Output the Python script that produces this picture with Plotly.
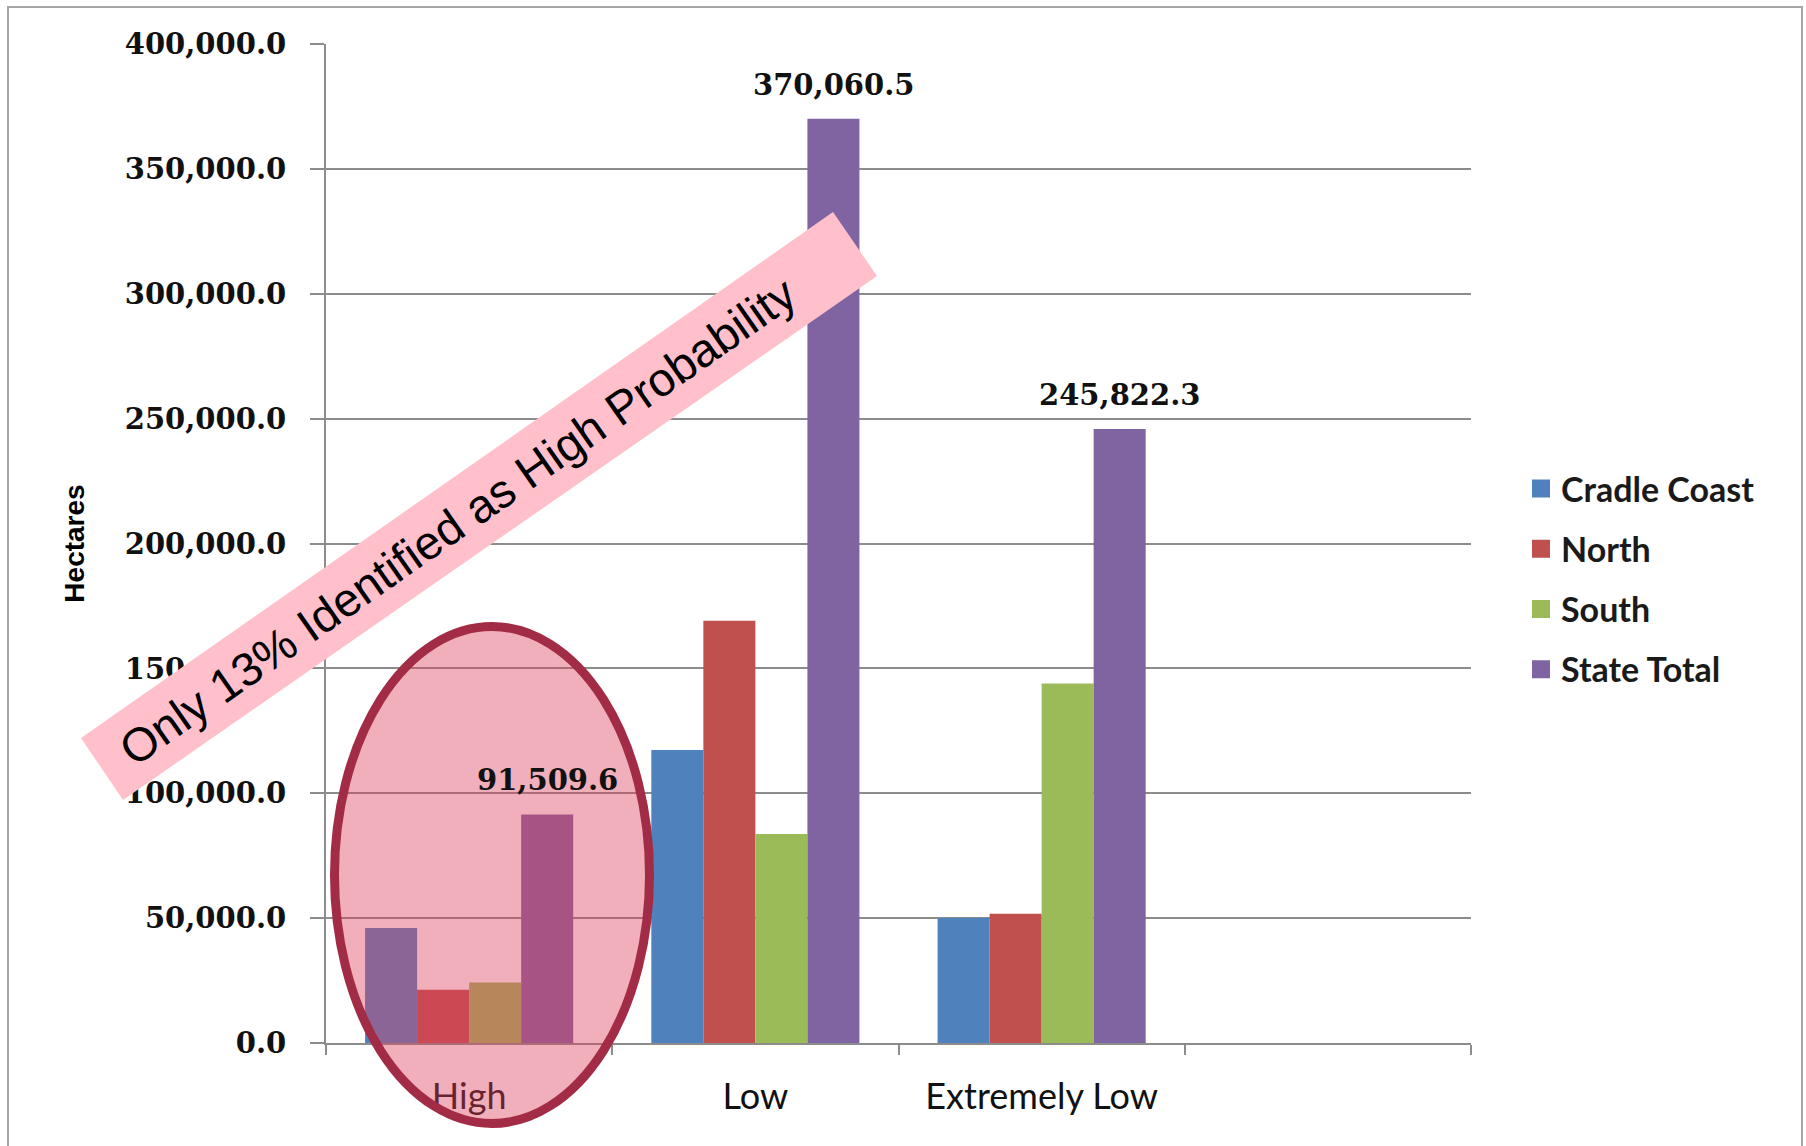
import plotly.graph_objects as go

# ---- data ----
categories = ["High", "Low", "Extremely Low", " "]
series_names = ["Cradle Coast", "North", "South", "State Total"]
cradle_coast = [46000, 117320, 50100]
north = [21300, 169100, 51800]
south = [24200, 83640, 143900]
state_total = [91509.6, 370060.5, 245822.3]
series_values = [cradle_coast, north, south, state_total]
series_colors = ["#4F81BD", "#C0504D", "#9BBB59", "#8064A2"]
y_tick_values = [0, 50000, 100000, 150000, 200000, 250000, 300000, 350000, 400000]
y_title = "Hectares"
banner_text = "Only 13% Identified as High Probability"

# ---- geometry ----
W, H = 1806, 1146
L, R, T, B = 326, 335, 44, 103
PW, PH = W - L - R, H - T - B
BARGAP = 0.273


def paper(px, py):
    return (px - L) / PW, (H - B - py) / PH


fig = go.Figure()
for name, vals, col in zip(series_names, series_values, series_colors):
    fig.add_trace(go.Bar(
        name=name, x=categories[:3], y=vals,
        marker=dict(color=col, line=dict(width=0)),
        legendgroup=name, showlegend=False,
        hoverinfo="x+y+name",
    ))
# legend entries (square swatches) linked to the bar series
for name, col in zip(series_names, series_colors):
    fig.add_trace(go.Scatter(
        name=name, x=[None], y=[None], mode="markers",
        marker=dict(symbol="square", size=16, color=col, line=dict(color=col, width=2)),
        legendgroup=name, showlegend=True, hoverinfo="skip",
    ))

axis_gray = "#8C8C8C"
fig.update_layout(
    width=W, height=H, autosize=False,
    margin=dict(l=L, r=R, t=T, b=B, pad=0),
    paper_bgcolor="white", plot_bgcolor="white",
    barmode="group", bargap=BARGAP, bargroupgap=0,
    showlegend=True,
    legend=dict(
        x=paper(1521, 0)[0], xanchor="left",
        y=paper(0, 579)[1], yanchor="middle",
        font=dict(family="Lato", size=34, color="#1a1a1a", weight="bold"),
        tracegroupgap=13, bgcolor="rgba(0,0,0,0)",
        itemsizing="trace",
    ),
    xaxis=dict(
        type="category", categoryorder="array", categoryarray=categories,
        range=[-0.5, 3.5], showgrid=False, zeroline=False,
        showline=True, linecolor=axis_gray, linewidth=2,
        ticks="outside", tickson="boundaries", ticklen=10, tickwidth=2, tickcolor=axis_gray,
        tickfont=dict(family="Lato", size=36, color="#111111"),
        ticklabelstandoff=21,
    ),
    yaxis=dict(
        range=[0, 400000], tickvals=y_tick_values, tickformat=",.1f",
        showgrid=True, gridcolor=axis_gray, gridwidth=2, zeroline=False,
        showline=True, linecolor=axis_gray, linewidth=2,
        ticks="outside", ticklen=14, tickwidth=2, tickcolor=axis_gray,
        tickfont=dict(family="DejaVu Serif", size=29, color="#111111", weight="bold"),
        ticklabelstandoff=18,
        title=dict(text=y_title, standoff=32,
                   font=dict(family="Liberation Sans", size=28, color="black", weight="bold")),
    ),
)

# data labels on State Total bars
offset = 1.5 * (1 - BARGAP) / 4
for i, v in enumerate(state_total):
    fig.add_annotation(
        x=i + offset, y=v, xref="x", yref="y",
        text=f"{v:,.1f}", showarrow=False,
        yanchor="middle", yshift=34,
        font=dict(family="DejaVu Serif", size=29, color="#111111", weight="bold"),
    )

shapes = []
# chart outer frame
fx0, fy0 = paper(8, 7)
fx1, fy1 = paper(1802, 1160)
shapes.append(dict(type="rect", xref="paper", yref="paper", x0=fx0, y0=fy1, x1=fx1, y1=fy0,
                   line=dict(color="#A6A6A6", width=2), fillcolor="rgba(0,0,0,0)", layer="below"))
# ellipse highlight
ex0, ey0 = paper(334.5, 1123.5)
ex1, ey1 = paper(649.5, 626.5)
shapes.append(dict(type="circle", xref="paper", yref="paper", x0=ex0, y0=ey0, x1=ex1, y1=ey1,
                   fillcolor="rgba(222,62,94,0.42)", line=dict(color="#A22C46", width=9),
                   layer="above"))
# rotated banner
corners = [(81, 738), (833, 212), (877, 276), (123, 800)]
pc = [paper(cx, cy) for cx, cy in corners]
path = "M " + " L ".join(f"{a:.5f},{b:.5f}" for a, b in pc) + " Z"
shapes.append(dict(type="path", xref="paper", yref="paper", path=path,
                   fillcolor="#FFC0CB", line=dict(width=0), layer="above"))
fig.update_layout(shapes=shapes)

tx, ty = paper(457, 521)
fig.add_annotation(
    x=tx, y=ty, xref="paper", yref="paper", text=banner_text, showarrow=False,
    textangle=-35, xanchor="center", yanchor="middle",
    font=dict(family="Liberation Sans, Arial", size=47, color="black"),
)

fig.write_html("out.html")
